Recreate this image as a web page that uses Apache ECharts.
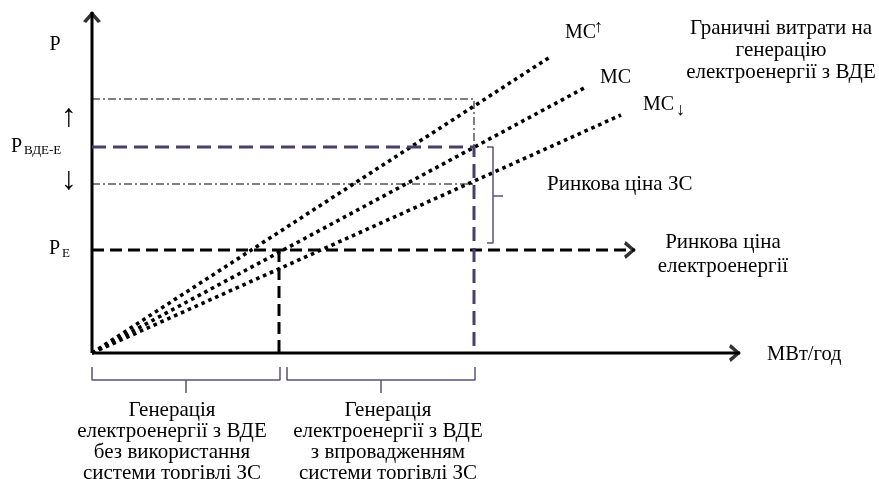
<!DOCTYPE html>
<html>
<head>
<meta charset="utf-8">
<script src="https://cdn.jsdelivr.net/npm/echarts@6/dist/echarts.min.js"></script>
<style>html,body{margin:0;background:#fff}#main{width:879px;height:479px}</style>
</head>
<body>
<div id="main"></div>
<script>
// schematic units (1 unit ~ 1 px), origin at the corner of the axes
const axisEnd = [648, 341];
const mcLabels = ['MC↑', 'MC', 'MC↓'];
const mcEndX = [458, 494, 529];
const mcEndY = [296, 266, 238];
const priceE = 103;            // P_E
const priceRes = 206;          // P_ВДЕ-Е
const priceBand = [169, 254];  // lower / upper dash-dot levels
const qtyE = 187;
const qtyRes = 382;
const priceEArrowX = 543;

const FONT = '"Liberation Serif", "Times New Roman", serif';
const PURPLE = '#4b3e6a';
const BRACE = '#5d4f7e';
const CHEVRON = 'path://M0,12 L10,0 L20,12 L16.5,14 L10,6 L3.5,14 Z';

function seg(data, lineStyle) {
  return { type: 'line', data, symbol: 'none', silent: true, animation: false,
    lineStyle: Object.assign({ color: '#000', width: 1 }, lineStyle), z: 2 };
}

const series = [];
// axes
series.push(seg([[0, 0], [axisEnd[0], 0]], { width: 3 }));
series.push(seg([[0, 0], [0, axisEnd[1]]], { width: 3 }));
// dash-dot band
series.push(seg([[0, priceBand[1]], [qtyRes, priceBand[1]], [qtyRes, priceRes]], { width: 1, type: [8, 3, 2, 3] }));
series.push(seg([[0, priceBand[0]], [qtyRes, priceBand[0]]], { width: 1, type: [8, 3, 2, 3] }));
// MC lines
mcEndX.forEach((x, i) => series.push(seg([[0, 0], [x, mcEndY[i]]], { width: 3.6, type: [3.6, 3.9] })));
// P_E line with arrow
series.push(seg([[0, priceE], [priceEArrowX, priceE]], { width: 3, type: [12, 6] }));
series.push(seg([[qtyE, priceE], [qtyE, 0]], { width: 3, type: [12, 6] }));
// P_VDE line
series.push(seg([[0, priceRes], [qtyRes, priceRes], [qtyRes, 0]], { width: 3, type: [14, 7], color: PURPLE }));
// braces
series.push(seg([[395, priceRes], [401, priceRes], [401, 110], [395, 110]], { width: 1.5, color: BRACE }));
series.push(seg([[401, 157], [411, 157]], { width: 1.5, color: BRACE }));
series.push(seg([[0, -14], [0, -27], [qtyE + 1, -27], [qtyE + 1, -14]], { width: 1.5, color: BRACE }));
series.push(seg([[94, -27], [94, -40]], { width: 1.5, color: BRACE }));
series.push(seg([[qtyE + 8, -14], [qtyE + 8, -27], [qtyRes + 1, -27], [qtyRes + 1, -14]], { width: 1.5, color: BRACE }));
series.push(seg([[289, -27], [289, -40]], { width: 1.5, color: BRACE }));
// arrow heads
series.push({
  type: 'scatter', silent: true, animation: false, z: 3,
  itemStyle: { color: '#000' },
  data: [
    { value: [axisEnd[0], 0], symbol: CHEVRON, symbolSize: [18, 12], symbolRotate: -90, symbolOffset: [-5, 0] },
    { value: [0, axisEnd[1]], symbol: CHEVRON, symbolSize: [18, 12], symbolRotate: 0, symbolOffset: [0, 5] },
    { value: [priceEArrowX, priceE], symbol: CHEVRON, symbolSize: [18, 12], symbolRotate: -90, symbolOffset: [-5, 0] }
  ]
});

function txt(x, y, text, size, align, vAlign, extra) {
  return { type: 'text', x, y, silent: true, z: 10,
    style: Object.assign({ text, font: size + 'px ' + FONT, fill: '#000', align, verticalAlign: vAlign,
      textAlign: align, textVerticalAlign: vAlign }, extra || {}) };
}

const graphics = [
  txt(55, 45, 'P', 20, 'center', 'middle'),
  txt(69, 118, '↑', 32, 'center', 'middle'),
  txt(69, 181, '↓', 32, 'center', 'middle'),
  txt(11, 147, 'P', 20, 'left', 'middle'),
  txt(24, 151, 'ВДЕ-Е', 13, 'left', 'middle'),
  txt(49, 249, 'P', 20, 'left', 'middle'),
  txt(62, 254, 'E', 13, 'left', 'middle'),
  txt(565, 33, 'MC', 20, 'left', 'middle'),
  txt(594, 27, '↑', 18, 'left', 'middle'),
  txt(600, 78, mcLabels[1], 20, 'left', 'middle'),
  txt(643, 105, 'MC', 20, 'left', 'middle'),
  txt(676, 110, '↓', 18, 'left', 'middle'),
  txt(781, 17, 'Граничні витрати на\nгенерацію\nелектроенергії з ВДЕ', 21, 'center', 'top', { lineHeight: 22 }),
  txt(547, 184, 'Ринкова ціна ЗС', 21, 'left', 'middle'),
  txt(723, 230, 'Ринкова ціна\nелектроенергії', 21, 'center', 'top', { lineHeight: 24 }),
  txt(767, 355, 'МВт/год', 20.5, 'left', 'middle'),
  txt(172, 400, 'Генерація\nелектроенергії з ВДЕ\nбез використання\nсистеми торгівлі ЗС', 21, 'center', 'top', { lineHeight: 21 }),
  txt(388, 400, 'Генерація\nелектроенергії з ВДЕ\nз впровадженням\nсистеми торгівлі ЗС', 21, 'center', 'top', { lineHeight: 21 })
];

const chart = echarts.init(document.getElementById('main'), null, { renderer: 'canvas' });
chart.setOption({
  animation: false,
  backgroundColor: '#fff',
  grid: { left: 92, right: 139, top: 12, bottom: 6 },
  xAxis: { type: 'value', min: 0, max: 648, show: false },
  yAxis: { type: 'value', min: -120, max: 341, show: false },
  series,
  graphic: graphics
});
</script>
</body>
</html>
